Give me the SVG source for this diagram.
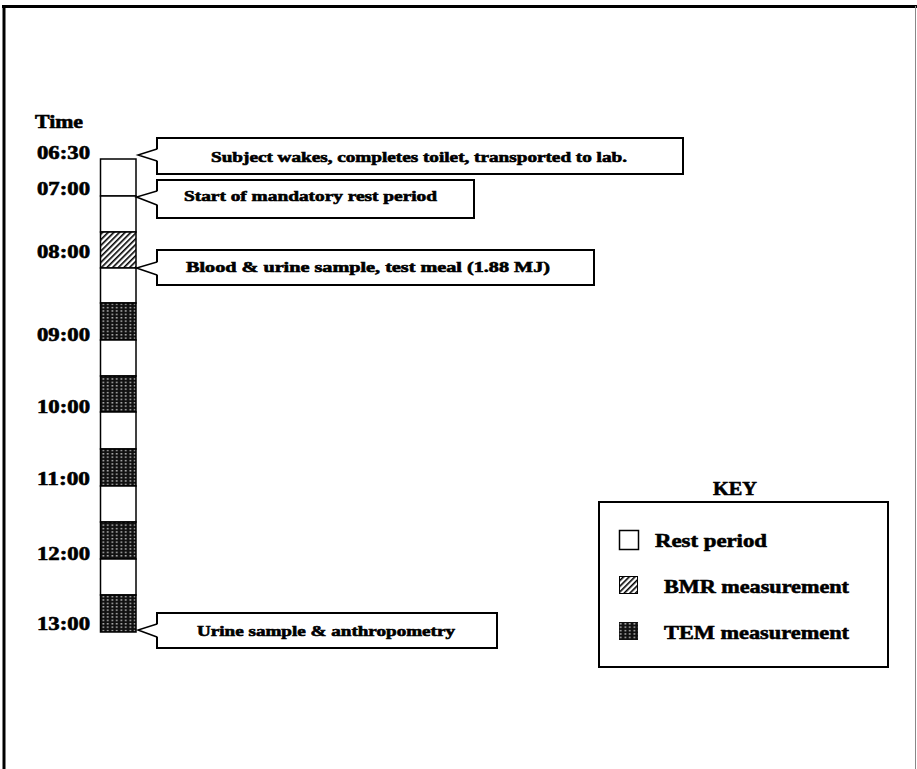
<svg xmlns="http://www.w3.org/2000/svg" width="917" height="769" viewBox="0 0 917 769">
<defs>
<pattern id="hatch" patternUnits="userSpaceOnUse" width="4" height="4" patternTransform="rotate(45)">
<rect width="4" height="4" fill="#fff"/>
<rect x="0" y="0" width="1.6" height="4" fill="#000"/>
</pattern>
<pattern id="grid" patternUnits="userSpaceOnUse" x="101" y="0" width="4.5" height="3.4">
<rect width="4.5" height="3.4" fill="#111"/>
<rect x="1.5" y="1" width="1.6" height="1.2" fill="#e8e8e8"/>
</pattern>
<style>
.t{font-family:"Liberation Serif","Times New Roman",serif;font-weight:bold;fill:#000;stroke:#000;stroke-width:0.6}
.time{font-size:18px}
.cap{font-size:14.5px}
.key{font-size:19px}
.box{fill:#fff;stroke:#000;stroke-width:2}
.seg{stroke:#000;stroke-width:1.5}
.rest{fill:#fff}
.bmr{fill:url(#hatch)}
.tem{fill:url(#grid)}
.arm{fill:none;stroke:#000;stroke-width:1.5;stroke-linejoin:miter}
.mask{fill:#fff;stroke:none}
</style>
</defs>
<rect width="917" height="769" fill="#fff"/>
<g id="frame">
<line x1="2" y1="6.5" x2="917" y2="6.5" stroke="#000" stroke-width="3"/>
<line x1="4" y1="5" x2="4" y2="769" stroke="#000" stroke-width="3"/>
<line x1="915.5" y1="6" x2="915.5" y2="769" stroke="#888" stroke-width="1"/>
</g>
<g id="time-labels">
<text class="t time" x="35" y="128" textLength="48" lengthAdjust="spacingAndGlyphs">Time</text>
<text class="t time" x="37" y="159" textLength="53" lengthAdjust="spacingAndGlyphs">06:30</text>
<text class="t time" x="37" y="195" textLength="53" lengthAdjust="spacingAndGlyphs">07:00</text>
<text class="t time" x="37" y="258" textLength="53" lengthAdjust="spacingAndGlyphs">08:00</text>
<text class="t time" x="37" y="341" textLength="53" lengthAdjust="spacingAndGlyphs">09:00</text>
<text class="t time" x="37" y="413" textLength="53" lengthAdjust="spacingAndGlyphs">10:00</text>
<text class="t time" x="37" y="485" textLength="53" lengthAdjust="spacingAndGlyphs">11:00</text>
<text class="t time" x="37" y="560" textLength="53" lengthAdjust="spacingAndGlyphs">12:00</text>
<text class="t time" x="37" y="630" textLength="53" lengthAdjust="spacingAndGlyphs">13:00</text>
</g>
<g id="timeline">
<rect class="seg rest" x="100.5" y="159" width="35.5" height="37"/>
<rect class="seg rest" x="100.5" y="196" width="35.5" height="36"/>
<rect class="seg bmr" x="100.5" y="232" width="35.5" height="36"/>
<rect class="seg rest" x="100.5" y="268" width="35.5" height="35"/>
<rect class="seg tem" x="100.5" y="303" width="35.5" height="37"/>
<rect class="seg rest" x="100.5" y="340" width="35.5" height="36"/>
<rect class="seg tem" x="100.5" y="376" width="35.5" height="36"/>
<rect class="seg rest" x="100.5" y="412" width="35.5" height="37"/>
<rect class="seg tem" x="100.5" y="449" width="35.5" height="37"/>
<rect class="seg rest" x="100.5" y="486" width="35.5" height="36"/>
<rect class="seg tem" x="100.5" y="522" width="35.5" height="37"/>
<rect class="seg rest" x="100.5" y="559" width="35.5" height="36"/>
<rect class="seg tem" x="100.5" y="595" width="35.5" height="37"/>
</g>
<g id="callout-wake">
<rect class="box" x="157" y="138" width="526" height="36"/>
<text class="t cap" x="211" y="162" textLength="416" lengthAdjust="spacingAndGlyphs">Subject wakes, completes toilet, transported to lab.</text>
</g>
<g id="callout-rest">
<rect class="box" x="157" y="180" width="317" height="38"/>
<text class="t cap" x="184" y="201" textLength="253" lengthAdjust="spacingAndGlyphs">Start of mandatory rest period</text>
</g>
<g id="callout-blood">
<rect class="box" x="157" y="250" width="437" height="35"/>
<text class="t cap" x="186" y="272" textLength="364" lengthAdjust="spacingAndGlyphs">Blood &amp; urine sample, test meal (1.88 MJ)</text>
</g>
<g id="callout-urine">
<rect class="box" x="157" y="613" width="340" height="35"/>
<text class="t cap" x="197" y="636" textLength="258" lengthAdjust="spacingAndGlyphs">Urine sample &amp; anthropometry</text>
</g>
<g id="connectors">
<polygon class="mask" points="158.5,149 138,155 158.5,161"/>
<polyline class="arm" points="157,149 138,155 157,161"/>
<polygon class="mask" points="158.5,191 136.5,197 158.5,205"/>
<polyline class="arm" points="157,191 136.5,197 157,205"/>
<polygon class="mask" points="158.5,262 136.5,268 158.5,275"/>
<polyline class="arm" points="157,262 136.5,268 157,275"/>
<polygon class="mask" points="158.5,624 138,630 158.5,637"/>
<polyline class="arm" points="157,624 138,630 157,637"/>
</g>
<g id="key">
<text class="t key" x="713" y="495" textLength="44" lengthAdjust="spacingAndGlyphs">KEY</text>
<rect x="599" y="502" width="289" height="165" fill="#fff" stroke="#000" stroke-width="2"/>
<rect x="619.5" y="530.5" width="19" height="19" fill="#fff" stroke="#000" stroke-width="1.5"/>
<text class="t key" x="655" y="547" textLength="112" lengthAdjust="spacingAndGlyphs">Rest period</text>
<rect x="619.5" y="576.5" width="18" height="17" class="bmr" stroke="#000" stroke-width="1"/>
<text class="t key" x="664" y="593" textLength="185" lengthAdjust="spacingAndGlyphs">BMR measurement</text>
<rect x="619" y="622" width="19" height="18" class="tem"/>
<text class="t key" x="664" y="639" textLength="185" lengthAdjust="spacingAndGlyphs">TEM measurement</text>
</g>
</svg>
